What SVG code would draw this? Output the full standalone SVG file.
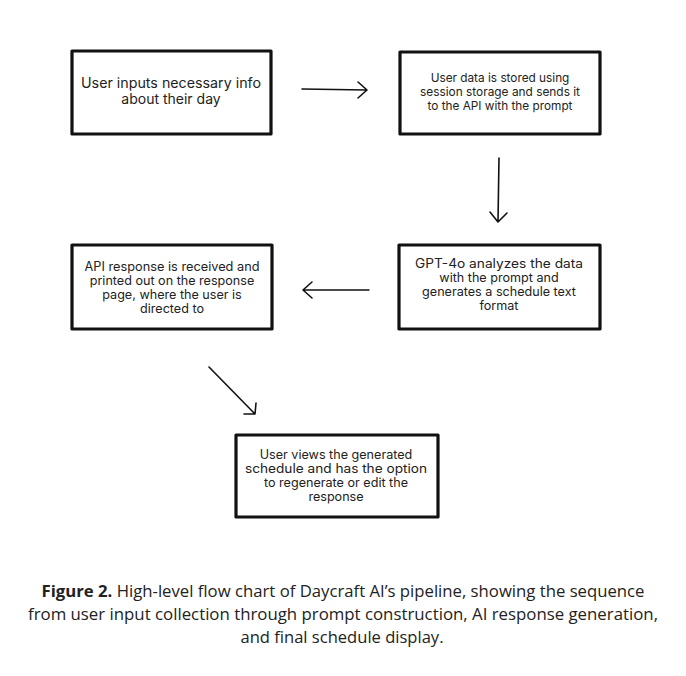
<svg xmlns="http://www.w3.org/2000/svg" width="686" height="676" viewBox="0 0 686 676">
<style>
.box{fill:#fff;stroke:#111;stroke-width:3.2;stroke-linejoin:round}
.t{font-family:"Inter","Liberation Sans",sans-serif;fill:#222;text-anchor:middle}
.s14{font-size:14px}
.s13{font-size:12.6px}
.s12{font-size:11.8px}
.con{stroke:#111;stroke-width:1.6;fill:none;stroke-linecap:round;stroke-linejoin:round}
.cap{font-family:"Open Sans","Noto Sans",sans-serif;font-size:16.4px;fill:#222;text-anchor:middle}
</style>
<rect width="686" height="676" fill="#fff"/>
<g id="n1"><rect class="box" x="72" y="51" width="199" height="83"/>
<text class="t s14" x="171" y="88" textLength="180" lengthAdjust="spacingAndGlyphs">User inputs necessary info</text>
<text class="t s14" x="171" y="104">about their day</text></g>
<g id="n2"><rect class="box" x="400" y="52" width="200" height="82"/>
<text class="t s12" x="500" y="82">User data is stored using</text>
<text class="t s12" x="500" y="96" textLength="160" lengthAdjust="spacingAndGlyphs">session storage and sends it</text>
<text class="t s12" x="500" y="110">to the API with the prompt</text></g>
<g id="n3"><rect class="box" x="72" y="245" width="200" height="84"/>
<text class="t s13" x="172" y="271" textLength="175" lengthAdjust="spacingAndGlyphs">API response is received and</text>
<text class="t s13" x="172" y="285">printed out on the response</text>
<text class="t s13" x="172" y="299">page, where the user is</text>
<text class="t s13" x="172" y="313">directed to</text></g>
<g id="n4"><rect class="box" x="399" y="245" width="201" height="84"/>
<text class="t s13" x="499" y="268" textLength="168" lengthAdjust="spacingAndGlyphs">GPT-4o analyzes the data</text>
<text class="t s13" x="499" y="282">with the prompt and</text>
<text class="t s13" x="499" y="296">generates a schedule text</text>
<text class="t s13" x="499" y="310">format</text></g>
<g id="n5"><rect class="box" x="236" y="435" width="202" height="82"/>
<text class="t s13" x="336" y="459">User views the generated</text>
<text class="t s13" x="336" y="473" textLength="182" lengthAdjust="spacingAndGlyphs">schedule and has the option</text>
<text class="t s13" x="336" y="487">to regenerate or edit the</text>
<text class="t s13" x="336" y="501">response</text></g>
<g id="connectors">
<path class="con" d="M302 89 L367 90 M358 82 L367 90 L358 98"/>
<path class="con" d="M499 158 L498 222 M490 212 L498 222 L507 213"/>
<path class="con" d="M369 290 L303 290 M312 282 L303 290 L312 298"/>
<path class="con" d="M209 367 L255 414 M244 414 L255 414 L256 403"/>
</g>
<g id="caption">
<text class="cap" x="343" y="597" textLength="603" lengthAdjust="spacingAndGlyphs"><tspan font-weight="bold">Figure 2.</tspan> High-level flow chart of Daycraft AI’s pipeline, showing the sequence</text>
<text class="cap" x="343" y="620" textLength="630" lengthAdjust="spacingAndGlyphs">from user input collection through prompt construction, AI response generation,</text>
<text class="cap" x="342" y="643" textLength="203" lengthAdjust="spacingAndGlyphs">and final schedule display.</text>
</g>
</svg>
